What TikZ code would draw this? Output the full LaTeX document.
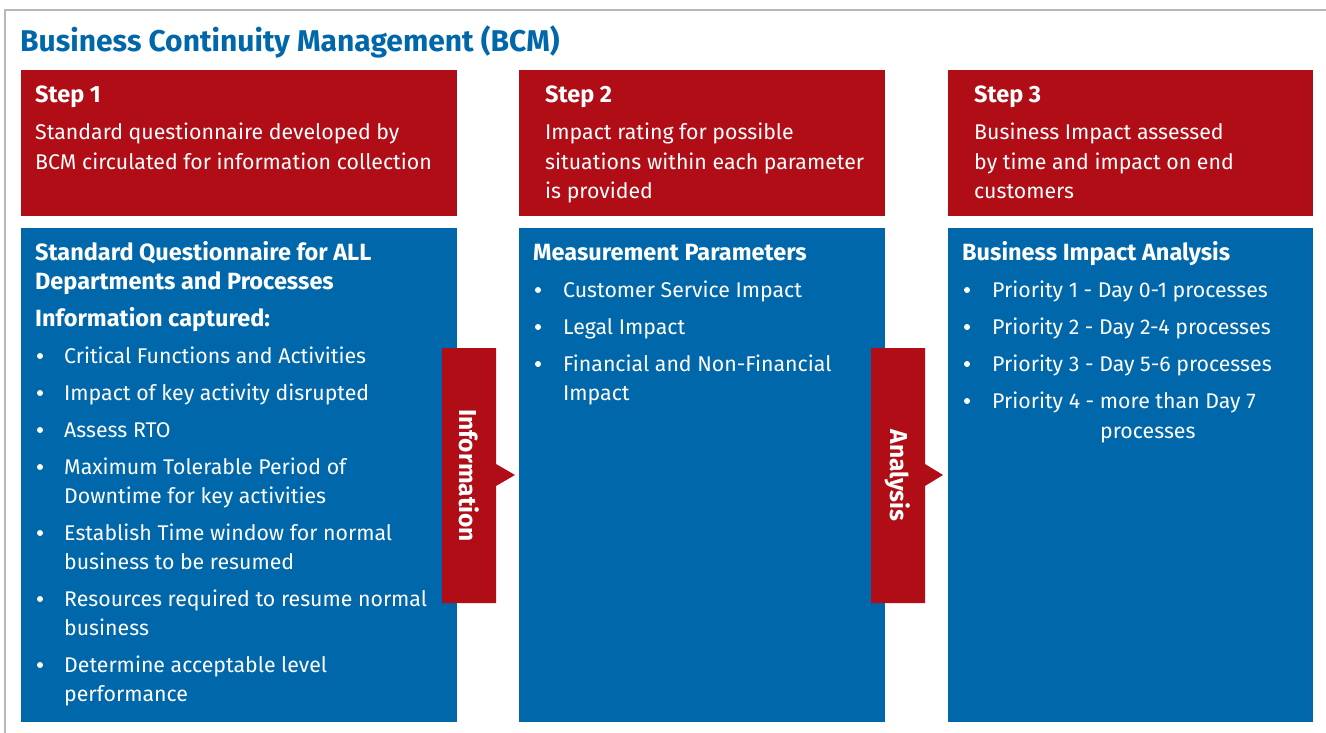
\documentclass[tikz,border=0pt]{standalone}
\usepackage{fontspec}
\setmainfont{Fira Sans}
\usetikzlibrary{calc}
\definecolor{bcmRed}{HTML}{B00D16}
\definecolor{bcmBlue}{HTML}{0067AA}
\definecolor{bcmFrame}{HTML}{B8B8B8}

\begin{document}
\begin{tikzpicture}[
    x=1pt, y=-1pt,
    bcm frame/.style={draw=bcmFrame, line width=1.5pt},
    bcm step/.style={fill=bcmRed},
    bcm panel/.style={fill=bcmBlue},
    bcm title/.style={text=bcmBlue, font=\fontsize{30}{34}\selectfont\bfseries, inner sep=0pt, anchor=base west},
    bcm head/.style={text=white, font=\fontsize{23.5}{29}\selectfont\bfseries, inner sep=0pt, anchor=base west, align=left},
    bcm text/.style={text=white, font=\fontsize{21.3}{29.5}\selectfont, inner sep=0pt, anchor=base west, align=left},
    bcm dot/.style={circle, fill=white, inner sep=0pt, minimum size=6pt},
    bcm tag/.style={text=white, font=\fontsize{24.5}{28}\selectfont\bfseries, inner sep=0pt, rotate=-90},
]

  \useasboundingbox (0,0) rectangle (1326,733);

  % Moldura.
  \draw[bcm frame] (5,733) -- (5,10) -- (1326,10);

  % Título.
  \node[bcm title] (title) at (20,52) {Business Continuity Management (BCM)};

  % Caixas.
  \coordinate (s1-nw) at (21,70);   \coordinate (s1-se) at (457,216);
  \coordinate (s2-nw) at (519,70);  \coordinate (s2-se) at (885,216);
  \coordinate (s3-nw) at (948,70);  \coordinate (s3-se) at (1313,216);
  \coordinate (p1-nw) at (21,228);  \coordinate (p1-se) at (457,722);
  \coordinate (p2-nw) at (519,228); \coordinate (p2-se) at (885,722);
  \coordinate (p3-nw) at (948,228); \coordinate (p3-se) at (1313,722);
  \fill[bcm step] (s1-nw) rectangle (s1-se);
  \fill[bcm step] (s2-nw) rectangle (s2-se);
  \fill[bcm step] (s3-nw) rectangle (s3-se);
  \fill[bcm panel] (p1-nw) rectangle (p1-se);
  \fill[bcm panel] (p2-nw) rectangle (p2-se);
  \fill[bcm panel] (p3-nw) rectangle (p3-se);

  % Passos (ancorados na linha de base da última linha).
  \node[bcm head] (s1-head) at ($(s1-nw)+(14,33)$) {Step 1};
  \node[bcm text] (s1-text) at ($(s1-nw)+(14,99.5)$) {Standard questionnaire developed by\\BCM circulated for information collection};
  \node[bcm head] (s2-head) at ($(s2-nw)+(26,33)$) {Step 2};
  \node[bcm text] (s2-text) at ($(s2-nw)+(26,129)$) {Impact rating for possible\\situations within each parameter\\is provided};
  \node[bcm head] (s3-head) at ($(s3-nw)+(26,33)$) {Step 3};
  \node[bcm text] (s3-text) at ($(s3-nw)+(26,129)$) {Business Impact assessed\\by time and impact on end\\customers};

  % Painel 1.
  \node[bcm head] (p1-head) at ($(p1-nw)+(14,61)$) {Standard Questionnaire for ALL\\Departments and Processes};
  \node[bcm head] (p1-sub) at ($(p1-nw)+(14,98)$) {Information captured:};
  \node[bcm dot] (p1-dot1) at (40,356) {};
  \node[bcm text] (p1-item1) at (64,363) {Critical Functions and Activities};
  \node[bcm dot] (p1-dot2) at (40,393) {};
  \node[bcm text] (p1-item2) at (64,400) {Impact of key activity disrupted};
  \node[bcm dot] (p1-dot3) at (40,430) {};
  \node[bcm text] (p1-item3) at (64,437) {Assess RTO};
  \node[bcm dot] (p1-dot4) at (40,467) {};
  \node[bcm text] (p1-item4) at (64,503.5) {Maximum Tolerable Period of\\Downtime for key activities};
  \node[bcm dot] (p1-dot5) at (40,533) {};
  \node[bcm text] (p1-item5) at (64,569.5) {Establish Time window for normal\\business to be resumed};
  \node[bcm dot] (p1-dot6) at (40,599) {};
  \node[bcm text] (p1-item6) at (64,635.5) {Resources required to resume normal\\business};
  \node[bcm dot] (p1-dot7) at (40,665) {};
  \node[bcm text] (p1-item7) at (64,701.5) {Determine acceptable level\\performance};

  % Painel 2.
  \node[bcm head] (p2-head) at ($(p2-nw)+(14,32)$) {Measurement Parameters};
  \node[bcm dot] (p2-dot1) at (538,290) {};
  \node[bcm text] (p2-item1) at (563,297) {Customer Service Impact};
  \node[bcm dot] (p2-dot2) at (538,327) {};
  \node[bcm text] (p2-item2) at (563,334) {Legal Impact};
  \node[bcm dot] (p2-dot3) at (538,364) {};
  \node[bcm text] (p2-item3) at (563,400.5) {Financial and Non-Financial\\Impact};

  % Painel 3.
  \node[bcm head] (p3-head) at ($(p3-nw)+(14,32)$) {Business Impact Analysis};
  \node[bcm dot] (p3-dot1) at (967,290) {};
  \node[bcm text] (p3-item1) at (992,297) {Priority 1 - Day 0-1 processes};
  \node[bcm dot] (p3-dot2) at (967,327) {};
  \node[bcm text] (p3-item2) at (992,334) {Priority 2 - Day 2-4 processes};
  \node[bcm dot] (p3-dot3) at (967,364) {};
  \node[bcm text] (p3-item3) at (992,371) {Priority 3 - Day 5-6 processes};
  \node[bcm dot] (p3-dot4) at (967,401) {};
  \node[bcm text] (p3-item4) at (992,408) {Priority 4 - more than Day 7};
  \node[bcm text] (p3-item4b) at (1100,438) {processes};

  % Setas.
  \coordinate (a1) at (469,475.5);
  \coordinate (a2) at (898,475.5);
  \fill[bcm step] ($(a1)+(-27,-127.5)$) -- ($(a1)+(27,-127.5)$) -- ($(a1)+(27,-11.5)$) -- ($(a1)+(46,-0.5)$) -- ($(a1)+(27,10.5)$) -- ($(a1)+(27,127.5)$) -- ($(a1)+(-27,127.5)$) -- cycle;
  \fill[bcm step] ($(a2)+(-27,-127.5)$) -- ($(a2)+(27,-127.5)$) -- ($(a2)+(27,-11.5)$) -- ($(a2)+(45,-0.5)$) -- ($(a2)+(27,10.5)$) -- ($(a2)+(27,127.5)$) -- ($(a2)+(-27,127.5)$) -- cycle;
  \node[bcm tag] (a1-tag) at (a1) {Information};
  \node[bcm tag] (a2-tag) at (a2) {Analysis};
\end{tikzpicture}
\end{document}
